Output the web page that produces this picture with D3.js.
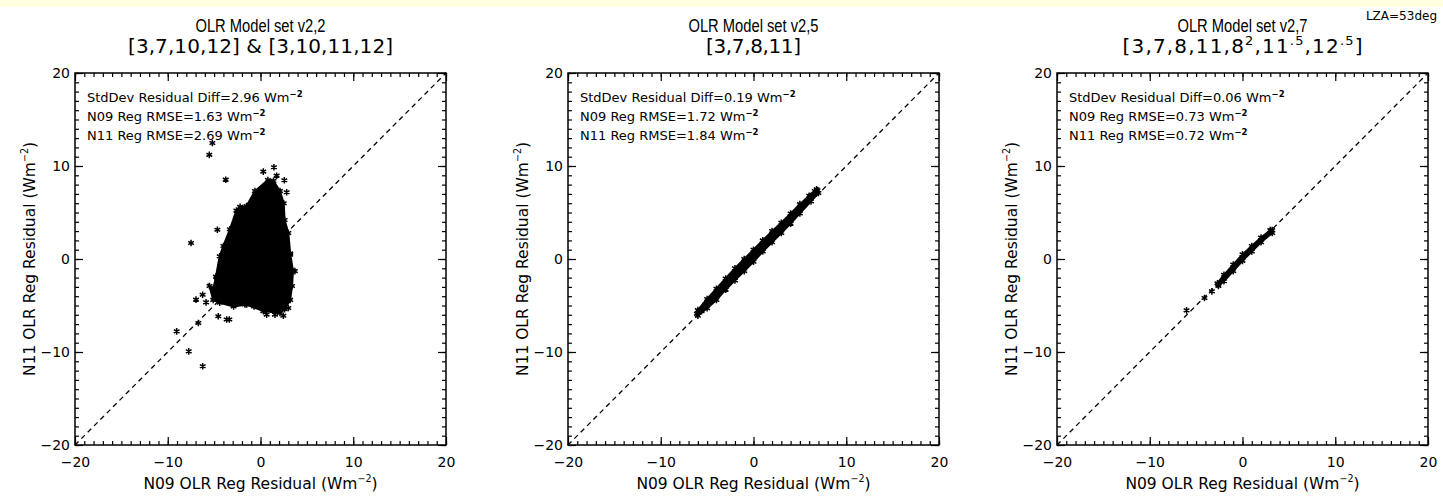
<!DOCTYPE html>
<html><head><meta charset="utf-8">
<script src="https://cdn.jsdelivr.net/npm/d3@7"></script>
<style>
body{margin:0;background:#fff;}
text{font-family:"DejaVu Sans",sans-serif;fill:#000;}
</style>
</head><body><svg id="c" width="1443" height="497"></svg>
<script>
// ---------- data ----------
const majorTicks = [-20, -10, 0, 10, 20];
const minorTicks = d3.range(-20, 21, 1);
const titleLine1 = ["OLR Model set v2,2", "OLR Model set v2,5", "OLR Model set v2,7"];
const titleLine2 = [
  [["[3,7,10,12] & [3,10,11,12]", 0]],
  [["[3,7,8,11]", 0]],
  [["[3,7,8,11,8", 0], ["2", 1], [",11", 0], [".5", 1], [",12", 0], [".5", 1], ["]", 0]]
];
const titleLine1Width = [130, 130, 130];
const titleLine2Width = [265, 95, 240];
const stdDevDiff = ["2.96", "0.19", "0.06"];
const rmseN09 = ["1.63", "1.72", "0.73"];
const rmseN11 = ["2.69", "1.84", "0.72"];
const xLabel = "N09 OLR Reg Residual (Wm";
const yLabel = "N11 OLR Reg Residual (Wm";
const cornerNote = "LZA=53deg";

// dense-cloud outlines (hull of overlapping points)
const cloud1 = [[0.8,8.5],[-0.6,7.3],[-1.5,5.7],[-2.2,5.6],[-2.6,5.2],[-3.3,3.2],[-4.0,1.4],[-4.4,0.3],
  [-4.8,-1.9],[-5.1,-3.3],[-5.5,-2.9],[-5.1,-4.4],[-4.4,-4.7],[-2.9,-5.1],[-1.5,-4.9],[0.3,-5.6],
  [2.1,-5.8],[2.6,-5.4],[3.2,-4.4],[3.4,-2.9],[3.5,-1.3],[3.2,0.6],[3.0,2.8],[2.6,4.2],[2.5,6.0],
  [2.1,7.3],[1.4,8.4]];
const points1 = [[-5.19,12.47],[-5.52,11.2],[-3.75,8.53],[-4.65,3.15],[-7.49,1.72],[1.45,9.86],[0.3,9.4],
  [2.57,8.46],[1.74,8.96],[2.82,7.17],[1.92,7.28],[3.7,-1.3],[3.2,0.47],[-6.24,-3.84],[-6.95,-4.37],
  [-5.87,-4.66],[-6.7,-6.88],[-4.55,-6.16],[-3.65,-6.5],[-3.36,-6.5],[-9.04,-7.78],[-7.74,-9.93],
  [-6.23,-11.54],[-5.08,-3.12],[0.66,-5.98],[1.56,-5.98],[2.46,-6.1],[3.0,-5.27],[-0.7,-5.1],
  [-1.67,-4.9],[-2.57,-4.8],[-4.7,-2.0]];
const cloud2 = [[-6.0,-5.5],[-5.0,-4.3],[-4.0,-3.2],[-3.0,-2.1],[-2.0,-1.0],[-1.0,0.0],[0.0,1.0],[1.0,2.0],
  [2.0,3.0],[3.0,3.9],[4.0,4.9],[5.0,5.9],[6.0,6.8],[6.8,7.5],[7.0,7.1],[6.2,6.2],[5.0,4.9],[4.0,3.8],
  [3.0,2.8],[2.0,1.8],[1.0,0.8],[0.0,-0.3],[-1.0,-1.3],[-2.0,-2.3],[-3.0,-3.3],[-4.0,-4.4],[-5.0,-5.3],[-6.0,-6.1]];
const points2 = [[-6.1,-5.9],[-5.6,-5.6],[-5.2,-4.9],[6.6,7.3],[6.9,7.4],[6.2,6.8]];
const cloud3 = [[-2.7,-2.6],[-2.0,-1.7],[-1.0,-0.6],[0.0,0.5],[1.0,1.4],[2.0,2.3],[3.0,3.1],
  [3.2,2.8],[2.0,1.8],[1.0,0.8],[0.0,-0.2],[-1.0,-1.3],[-2.0,-2.4],[-2.6,-2.9]];
const points3 = [[-6.03,-5.52],[-4.1,-4.19],[-3.3,-3.48],[-2.61,-2.76],[3.2,3.1]];

const clouds = [cloud1, cloud2, cloud3];
const pointSets = [points1, points2, points3];

// ---------- layout ----------
const panelLeft = [75, 568, 1057];
const plotW = 371, plotTop = 73, plotBottom = 445;

const svg = d3.select("#c");
svg.append("rect").attr("width", 1443).attr("height", 497).attr("fill", "#fff");
svg.append("rect").attr("width", 1443).attr("height", 7).attr("fill", "#ffffe0");

svg.append("text").attr("x", 1437).attr("y", 20).attr("text-anchor", "end")
  .style("font-size", "12px").text(cornerNote);

function supText(sel, base, fs) {
  sel.append("tspan").text(base);
  sel.append("tspan").attr("dy", -fs*0.45).style("font-size", (fs*0.62)+"px").text("\u22122");
  sel.append("tspan").attr("dy", fs*0.45).text(")");
}

const marker = d3.symbol().type(d3.symbolAsterisk).size(30);

panelLeft.forEach((L, i) => {
  const x = d3.scaleLinear().domain([-20, 20]).range([L, L + plotW]);
  const y = d3.scaleLinear().domain([-20, 20]).range([plotBottom, plotTop]);
  const g = svg.append("g");
  const cx = L + plotW/2;

  // titles
  g.append("text").attr("x", cx).attr("y", 31.5).attr("text-anchor", "middle")
    .style("font-family", "'Liberation Sans', Arial, sans-serif").style("font-size", "17.5px")
    .attr("textLength", titleLine1Width[i]).attr("lengthAdjust", "spacingAndGlyphs")
    .text(titleLine1[i]);
  const t2 = g.append("text").attr("x", cx).attr("y", 53).attr("text-anchor", "middle")
    .style("font-size", "20px")
    .attr("textLength", titleLine2Width[i]).attr("lengthAdjust", "spacing");
  titleLine2[i].forEach(([s, sup], k) => {
    const prevSup = k > 0 && titleLine2[i][k-1][1];
    const ts = t2.append("tspan").text(s).attr("dy", sup ? -8 : (prevSup ? 8 : 0));
    if (sup) ts.style("font-size", "13px");
  });

  // axes: major + minor ticks on all four sides
  const mk = (axisFn, scale, vals, size, labels) => axisFn(scale).tickValues(vals)
    .tickSizeInner(-size).tickSizeOuter(0).tickPadding(labels ? (axisFn === d3.axisBottom ? 12 : 5) : 0)
    .tickFormat(labels ? d3.format("") : "");
  const axes = [
    [d3.axisBottom, x, `translate(0,${plotBottom})`, true],
    [d3.axisTop, x, `translate(0,${plotTop})`, false],
    [d3.axisLeft, y, `translate(${L},0)`, true],
    [d3.axisRight, y, `translate(${L+plotW},0)`, false]
  ];
  axes.forEach(([fn, sc, tr, lab]) => {
    const a1 = g.append("g").attr("transform", tr).call(mk(fn, sc, minorTicks, 4, false));
    a1.select(".domain").remove();
    const a2 = g.append("g").attr("transform", tr).call(mk(fn, sc, majorTicks, 8, lab));
    a2.select(".domain").remove();
    a2.selectAll("text").style("font-size", "14px").style("font-family", "DejaVu Sans");
  });
  g.selectAll(".tick line").attr("stroke", "#000").attr("stroke-width", 1.2);

  // diagonal dashed line
  g.append("line").attr("x1", x(-20)).attr("y1", y(-20)).attr("x2", x(20)).attr("y2", y(20))
    .attr("stroke", "#000").attr("stroke-width", 1.3).attr("stroke-dasharray", "5,4");

  // dense cloud
  g.append("path").datum(clouds[i])
    .attr("d", d3.line().x(d => x(d[0])).y(d => y(d[1])).curve(d3.curveLinearClosed))
    .attr("fill", "#000").attr("stroke", "#000").attr("stroke-width", 2);
  // individual points (including cloud hull points)
  g.selectAll(".pt").data(clouds[i].concat(pointSets[i])).enter().append("path")
    .attr("transform", d => `translate(${x(d[0])},${y(d[1])})`)
    .attr("d", marker).attr("fill", "none").attr("stroke", "#000").attr("stroke-width", 1.5);

  // frame
  g.append("rect").attr("x", L).attr("y", plotTop).attr("width", plotW).attr("height", plotBottom - plotTop)
    .attr("fill", "none").attr("stroke", "#000").attr("stroke-width", 1.5);

  // annotations
  const ann = [
    "StdDev Residual Diff=" + stdDevDiff[i] + " Wm",
    "N09 Reg RMSE=" + rmseN09[i] + " Wm",
    "N11 Reg RMSE=" + rmseN11[i] + " Wm"
  ];
  ann.forEach((s, k) => {
    const t = g.append("text").attr("x", L + 12).attr("y", 102 + 19*k).style("font-size", "13px");
    t.append("tspan").text(s);
    t.append("tspan").attr("dy", -5).style("font-size", "8.5px").style("font-weight", "bold").text("\u22122");
  });

  // axis labels
  const xl = g.append("text").attr("x", cx).attr("y", 489).attr("text-anchor", "middle").style("font-size", "15.5px");
  supText(xl, xLabel, 15.5);
  const yl = g.append("text").attr("transform", `translate(${L-40},${(plotTop+plotBottom)/2}) rotate(-90)`)
    .attr("text-anchor", "middle").style("font-size", "15.5px");
  supText(yl, yLabel, 15.5);
});
</script></body></html>
